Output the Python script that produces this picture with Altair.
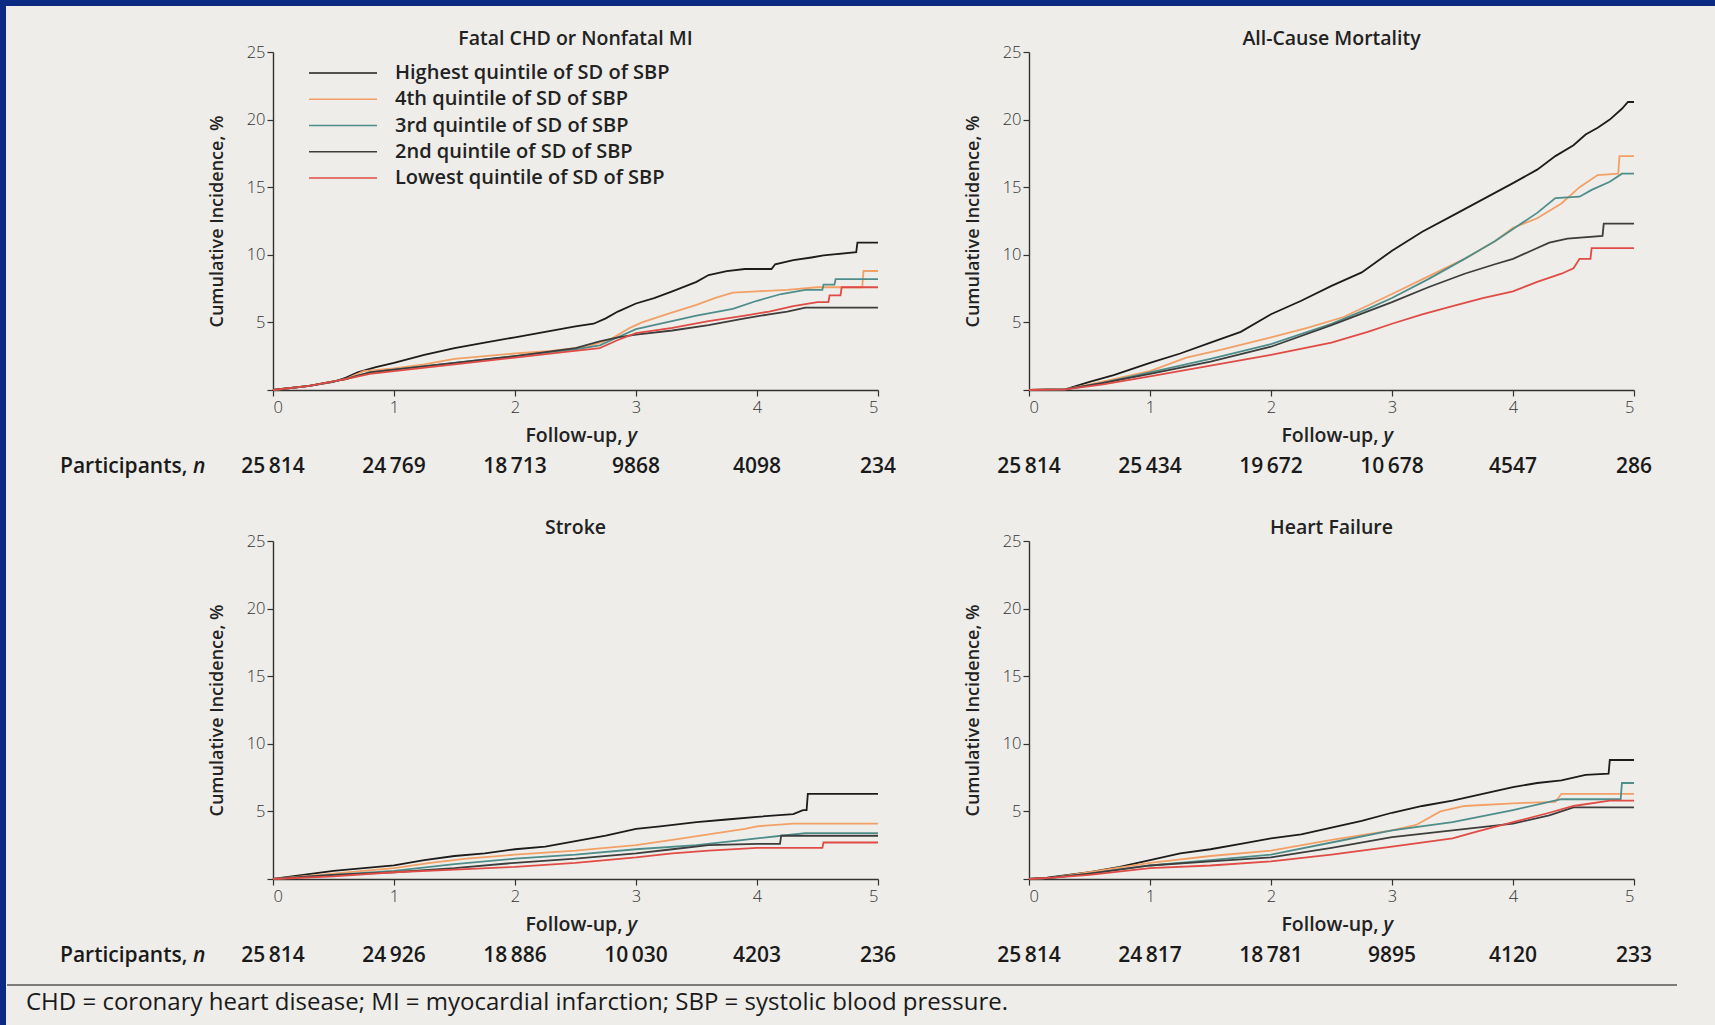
import altair as alt
import pandas as pd

SERIES = ["Highest quintile of SD of SBP", "4th quintile of SD of SBP", "3rd quintile of SD of SBP",
          "2nd quintile of SD of SBP", "Lowest quintile of SD of SBP"]
COLORS = ["#1c1c1c", "#f2a066", "#4f8d8b", "#3d3d3d", "#e04b45"]

PANEL_TITLES = ["Fatal CHD or Nonfatal MI", "All-Cause Mortality", "Stroke", "Heart Failure"]
YEARS = [0, 1, 2, 3, 4, 5]
chd_at_risk = ["25\u2009814", "24\u2009769", "18\u2009713", "9868", "4098", "234"]
acm_at_risk = ["25\u2009814", "25\u2009434", "19\u2009672", "10\u2009678", "4547", "286"]
stroke_at_risk = ["25\u2009814", "24\u2009926", "18\u2009886", "10\u2009030", "4203", "236"]
hf_at_risk = ["25\u2009814", "24\u2009817", "18\u2009781", "9895", "4120", "233"]

# (year, cumulative incidence %)
chd_highest = [(0, 0), (0.3, 0.3), (0.5, 0.6), (0.6, 0.9), (0.7, 1.3), (0.85, 1.7), (1.0, 2.0),
               (1.25, 2.6), (1.5, 3.1), (1.75, 3.5), (2.0, 3.9), (2.25, 4.3), (2.5, 4.7), (2.65, 4.9),
               (2.75, 5.3), (2.85, 5.8), (3.0, 6.4), (3.15, 6.8), (3.3, 7.3), (3.5, 8.0), (3.6, 8.5),
               (3.75, 8.8), (3.9, 8.95), (4.12, 8.95), (4.15, 9.3), (4.3, 9.6), (4.45, 9.8), (4.55, 9.95),
               (4.82, 10.2), (4.83, 10.9), (5.0, 10.9)]
chd_4th = [(0, 0), (0.3, 0.3), (0.6, 0.8), (0.75, 1.4), (1.0, 1.6), (1.25, 1.9), (1.5, 2.3), (1.75, 2.5),
           (2.0, 2.7), (2.3, 2.9), (2.6, 3.2), (2.8, 3.8), (2.95, 4.6), (3.05, 5.0), (3.25, 5.6), (3.5, 6.3),
           (3.65, 6.8), (3.8, 7.2), (4.0, 7.3), (4.25, 7.4), (4.5, 7.6), (4.87, 7.6), (4.88, 8.8), (5.0, 8.8)]
chd_3rd = [(0, 0), (0.3, 0.3), (0.6, 0.8), (0.8, 1.3), (1.0, 1.5), (1.5, 2.0), (2.0, 2.5), (2.5, 3.0),
           (2.7, 3.3), (2.85, 3.9), (3.0, 4.5), (3.25, 5.0), (3.5, 5.5), (3.8, 6.0), (4.0, 6.6), (4.2, 7.1),
           (4.4, 7.4), (4.54, 7.4), (4.55, 7.8), (4.64, 7.8), (4.65, 8.2), (5.0, 8.2)]
chd_2nd = [(0, 0), (0.3, 0.3), (0.6, 0.8), (0.8, 1.3), (1.0, 1.5), (1.5, 2.0), (2.0, 2.5), (2.5, 3.1),
           (2.7, 3.6), (2.85, 3.9), (3.0, 4.1), (3.3, 4.4), (3.6, 4.8), (3.9, 5.3), (4.1, 5.6), (4.25, 5.8),
           (4.4, 6.1), (5.0, 6.1)]
chd_lowest = [(0, 0), (0.3, 0.3), (0.6, 0.8), (0.8, 1.2), (1.0, 1.4), (1.5, 1.9), (2.0, 2.4), (2.4, 2.8),
              (2.7, 3.1), (2.85, 3.7), (3.0, 4.2), (3.3, 4.6), (3.6, 5.1), (3.9, 5.5), (4.1, 5.8), (4.3, 6.2),
              (4.5, 6.5), (4.59, 6.5), (4.6, 7.0), (4.69, 7.0), (4.7, 7.6), (5.0, 7.6)]

acm_highest = [(0, 0), (0.3, 0.05), (0.5, 0.6), (0.7, 1.1), (1.0, 2.0), (1.25, 2.7), (1.5, 3.5), (1.75, 4.3),
               (2.0, 5.6), (2.25, 6.6), (2.5, 7.7), (2.75, 8.7), (3.0, 10.3), (3.25, 11.7), (3.5, 12.9),
               (3.75, 14.1), (4.0, 15.3), (4.2, 16.3), (4.35, 17.3), (4.5, 18.1), (4.6, 18.9), (4.7, 19.4),
               (4.8, 20.0), (4.9, 20.8), (4.95, 21.3), (5.0, 21.3)]
acm_4th = [(0, 0), (0.3, 0.05), (0.6, 0.6), (1.0, 1.4), (1.3, 2.4), (1.6, 3.0), (2.0, 3.9), (2.3, 4.6),
           (2.6, 5.4), (3.0, 7.1), (3.3, 8.4), (3.6, 9.7), (3.85, 11.0), (4.0, 12.0), (4.2, 12.7), (4.4, 13.8),
           (4.55, 15.0), (4.7, 15.9), (4.87, 16.0), (4.88, 17.3), (5.0, 17.3)]
acm_3rd = [(0, 0), (0.3, 0.05), (0.6, 0.5), (1.0, 1.3), (1.5, 2.3), (2.0, 3.4), (2.5, 4.9), (2.8, 6.0),
           (3.0, 6.8), (3.3, 8.2), (3.6, 9.7), (3.85, 11.0), (4.05, 12.2), (4.2, 13.1), (4.35, 14.2),
           (4.55, 14.3), (4.65, 14.8), (4.8, 15.4), (4.9, 16.0), (5.0, 16.0)]
acm_2nd = [(0, 0), (0.3, 0.05), (0.6, 0.5), (1.0, 1.2), (1.5, 2.1), (2.0, 3.2), (2.5, 4.8), (3.0, 6.5),
           (3.3, 7.6), (3.6, 8.6), (3.85, 9.3), (4.0, 9.7), (4.15, 10.3), (4.3, 10.9), (4.45, 11.2),
           (4.74, 11.4), (4.75, 12.3), (5.0, 12.3)]
acm_lowest = [(0, 0), (0.3, 0.05), (0.6, 0.4), (1.0, 1.0), (1.5, 1.8), (2.0, 2.6), (2.5, 3.5), (2.8, 4.3),
              (3.0, 4.9), (3.25, 5.6), (3.5, 6.2), (3.75, 6.8), (4.0, 7.3), (4.2, 8.0), (4.4, 8.6), (4.5, 9.0),
              (4.55, 9.7), (4.64, 9.7), (4.65, 10.5), (5.0, 10.5)]

stroke_highest = [(0, 0), (0.25, 0.3), (0.5, 0.6), (0.75, 0.8), (1.0, 1.0), (1.25, 1.4), (1.5, 1.7),
                  (1.75, 1.9), (2.0, 2.2), (2.25, 2.4), (2.5, 2.8), (2.75, 3.2), (3.0, 3.7), (3.2, 3.9),
                  (3.5, 4.2), (3.75, 4.4), (4.0, 4.6), (4.3, 4.8), (4.38, 5.1), (4.41, 5.1), (4.42, 6.3),
                  (5.0, 6.3)]
stroke_4th = [(0, 0), (0.5, 0.4), (1.0, 0.8), (1.3, 1.2), (1.6, 1.5), (2.0, 1.8), (2.5, 2.1), (3.0, 2.5),
              (3.3, 2.9), (3.6, 3.3), (3.9, 3.7), (4.0, 3.9), (4.3, 4.1), (5.0, 4.1)]
stroke_3rd = [(0, 0), (0.5, 0.3), (1.0, 0.6), (1.5, 1.1), (2.0, 1.5), (2.5, 1.8), (3.0, 2.2), (3.5, 2.5),
              (3.8, 2.8), (4.0, 3.0), (4.2, 3.2), (4.4, 3.4), (5.0, 3.4)]
stroke_2nd = [(0, 0), (0.5, 0.3), (1.0, 0.5), (1.5, 0.8), (2.0, 1.2), (2.5, 1.5), (3.0, 1.9), (3.3, 2.2),
              (3.6, 2.5), (4.0, 2.6), (4.19, 2.6), (4.2, 3.2), (5.0, 3.2)]
stroke_lowest = [(0, 0), (0.5, 0.2), (1.0, 0.5), (1.5, 0.7), (2.0, 0.9), (2.5, 1.2), (3.0, 1.6), (3.3, 1.9),
                 (3.6, 2.1), (4.0, 2.3), (4.54, 2.3), (4.55, 2.7), (5.0, 2.7)]

hf_highest = [(0, 0), (0.15, 0.1), (0.5, 0.5), (0.75, 0.9), (1.0, 1.4), (1.25, 1.9), (1.5, 2.2), (1.75, 2.6),
              (2.0, 3.0), (2.25, 3.3), (2.5, 3.8), (2.75, 4.3), (3.0, 4.9), (3.25, 5.4), (3.5, 5.8),
              (3.75, 6.3), (4.0, 6.8), (4.2, 7.1), (4.4, 7.3), (4.6, 7.7), (4.79, 7.8), (4.8, 8.8), (5.0, 8.8)]
hf_4th = [(0, 0), (0.2, 0.1), (0.5, 0.5), (1.0, 1.2), (1.5, 1.7), (2.0, 2.1), (2.5, 2.9), (3.0, 3.6),
          (3.2, 4.0), (3.4, 5.0), (3.6, 5.4), (4.0, 5.6), (4.35, 5.7), (4.4, 6.3), (5.0, 6.3)]
hf_3rd = [(0, 0), (0.2, 0.1), (0.5, 0.4), (1.0, 1.0), (1.5, 1.4), (2.0, 1.8), (2.5, 2.7), (3.0, 3.6),
          (3.5, 4.2), (4.0, 5.1), (4.3, 5.7), (4.4, 5.9), (4.89, 5.9), (4.9, 7.1), (5.0, 7.1)]
hf_2nd = [(0, 0), (0.2, 0.1), (0.5, 0.4), (1.0, 1.0), (1.5, 1.3), (2.0, 1.6), (2.5, 2.3), (3.0, 3.1),
          (3.5, 3.6), (4.0, 4.1), (4.3, 4.7), (4.5, 5.3), (5.0, 5.3)]
hf_lowest = [(0, 0), (0.2, 0.1), (0.5, 0.3), (1.0, 0.8), (1.5, 1.0), (2.0, 1.3), (2.5, 1.8), (3.0, 2.4),
             (3.5, 3.0), (3.7, 3.5), (4.0, 4.2), (4.3, 4.9), (4.5, 5.4), (4.8, 5.8), (5.0, 5.8)]

FOOTER = "CHD = coronary heart disease; MI = myocardial infarction; SBP = systolic blood pressure."

W, H = 605, 338
FONT = "Open Sans"
FRAME = "#0b2b82"

color_enc = alt.Color("series:N", scale=alt.Scale(domain=SERIES, range=COLORS), legend=None)


def curves_df(curves):
    rows = []
    for name, pts in zip(SERIES, curves):
        for t, v in pts:
            rows.append({"series": name, "t": t, "v": v})
    return pd.DataFrame(rows)


def txt(s, x, y, **kw):
    return alt.Chart(pd.DataFrame({"s": [s]})).mark_text(**kw).encode(
        text="s:N", x=alt.value(x), y=alt.value(y))


def panel(title, curves, at_risk, first_col, legend=False, footer=False):
    lines = alt.Chart(curves_df(curves)).mark_line(strokeWidth=1.8).encode(
        x=alt.X("t:Q", scale=alt.Scale(domain=[0, 5], nice=False),
                axis=alt.Axis(values=YEARS, title=None, format="d", labelPadding=3)),
        y=alt.Y("v:Q", scale=alt.Scale(domain=[0, 25], nice=False),
                axis=alt.Axis(values=[0, 5, 10, 15, 20, 25], title="Cumulative Incidence, %",
                              labelExpr="datum.value == 0 ? '' : datum.label", titlePadding=20)),
        color=color_enc,
    )
    layers = [
        txt(title, W / 2, -13, font=FONT, fontSize=19.5, fontWeight=600, color="#222",
            baseline="middle", align="center"),
        txt("Follow-up,", W / 2 + 47, H + 46, font=FONT, fontSize=19.5, fontWeight=600, color="#222",
            baseline="middle", align="right"),
        txt("y", W / 2 + 52, H + 46, font=FONT, fontSize=19.5, fontWeight=600, fontStyle="italic",
            color="#222", baseline="middle", align="left"),
        alt.Chart(pd.DataFrame({"year": YEARS, "n": at_risk})).mark_text(
            font=FONT, fontSize=21, fontWeight=600, color="#1a1a1a", baseline="middle", align="center"
        ).encode(x="year:Q", text="n:N", y=alt.value(H + 77)),
    ]
    if first_col:
        layers.append(txt("Participants,", -213, H + 77, font=FONT, fontSize=21, fontWeight=600,
                          color="#1a1a1a", baseline="middle", align="left"))
        layers.append(txt("n", -80, H + 77, font=FONT, fontSize=21, fontWeight=600, fontStyle="italic",
                          color="#1a1a1a", baseline="middle", align="left"))
    if legend:
        leg = pd.DataFrame({"series": SERIES, "rank": [0, 1, 2, 3, 4]})
        yleg = alt.Y("rank:Q", scale=alt.Scale(domain=[0, 4], range=[21, 126]), axis=None)
        rules = alt.Chart(leg).mark_rule(strokeWidth=1.6).encode(
            x=alt.value(36), x2=alt.value(104), y=yleg, color=color_enc)
        labels = alt.Chart(leg).mark_text(
            font=FONT, fontSize=20, fontWeight=600, color="#222", align="left", baseline="middle"
        ).encode(x=alt.value(122), y=yleg, text="series:N")
        # page frame (scan border), top and left strips
        frame_top = alt.Chart(pd.DataFrame({"s": ["frame"]})).mark_rect(color=FRAME).encode(
            x=alt.value(-273), x2=alt.value(1442), y=alt.value(-52), y2=alt.value(-46))
        frame_left = alt.Chart(pd.DataFrame({"s": ["frame"]})).mark_rect(color=FRAME).encode(
            x=alt.value(-273), x2=alt.value(-267), y=alt.value(-52), y2=alt.value(973))
        chart = alt.layer(frame_top, frame_left, lines, rules, labels, *layers).resolve_scale(y="independent")
    else:
        chart = alt.layer(lines, *layers)
    if footer:
        foot = txt(FOOTER, -247, H + 124, font=FONT, fontSize=24, color="#1a1a1a", align="left",
                   baseline="middle")
        rule = alt.Chart(pd.DataFrame({"s": [FOOTER]})).mark_rule(color="#555", strokeWidth=1.5).encode(
            x=alt.value(-266), x2=alt.value(1404), y=alt.value(H + 106))
        chart = alt.layer(chart, rule, foot)
    return chart.properties(width=W, height=H)


p1 = panel(PANEL_TITLES[0], [chd_highest, chd_4th, chd_3rd, chd_2nd, chd_lowest], chd_at_risk, True, legend=True)
p2 = panel(PANEL_TITLES[1], [acm_highest, acm_4th, acm_3rd, acm_2nd, acm_lowest], acm_at_risk, False)
p3 = panel(PANEL_TITLES[2], [stroke_highest, stroke_4th, stroke_3rd, stroke_2nd, stroke_lowest], stroke_at_risk,
           True, footer=True)
p4 = panel(PANEL_TITLES[3], [hf_highest, hf_4th, hf_3rd, hf_2nd, hf_lowest], hf_at_risk, False)

chart = alt.concat(p1, p2, p3, p4, columns=2, spacing=151, bounds="flush").properties(
    padding={"left": 0, "top": 0, "right": 0, "bottom": 0}
).configure(background="#eeede9").configure_view(stroke=None).configure_axis(
    domainColor="#333", domainWidth=1.4, tickColor="#333", tickWidth=1.2, tickSize=6, grid=False,
    labelFont=FONT, labelFontSize=16.5, labelColor="#333", labelFontWeight=300,
    titleFont=FONT, titleFontSize=18, titleFontWeight=600, titleColor="#222"
)

chart.save("out.html", embed_options={"renderer": "svg", "actions": False})
